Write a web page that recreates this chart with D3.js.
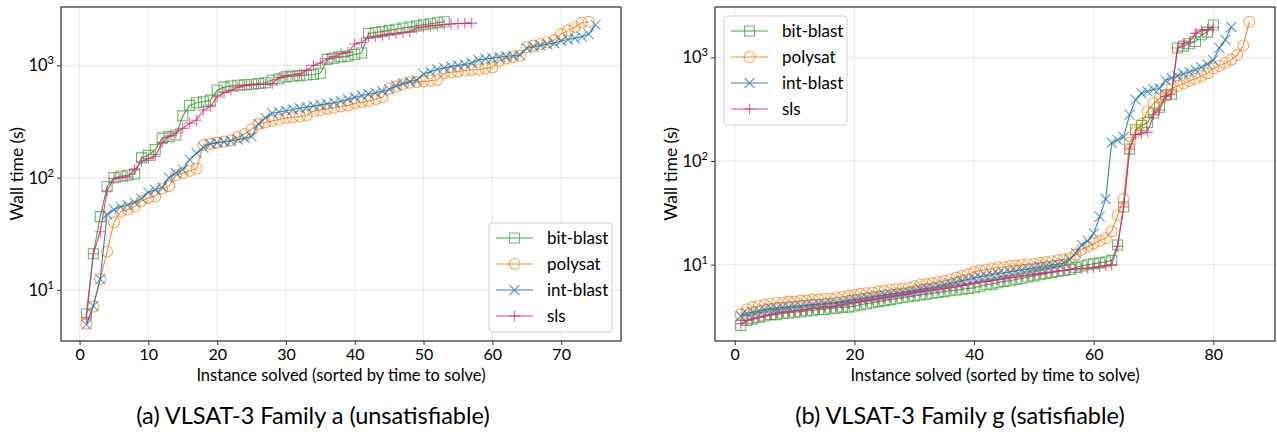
<!DOCTYPE html>
<html>
<head>
<meta charset="utf-8">
<script src="https://cdn.jsdelivr.net/npm/d3@7"></script>
<style>
  html, body { margin: 0; padding: 0; background: #fff; }
  svg { display: block; font-family: Lato, "Open Sans", sans-serif; }
</style>
</head>
<body>
<svg id="chart" width="1277" height="437"></svg>
<script>
// ---------- DATA ----------
const seriesNames = ["bit-blast", "polysat", "int-blast", "sls"];
const seriesColors = ["#2ca02c", "#ff7f0e", "#1f77b4", "#d9287c"];
const seriesMarkers = ["square", "circle", "x", "plus"];

// Panel (a): VLSAT-3 Family a (unsatisfiable)
const aBitBlast = [6.1, 21, 45, 83, 100, 103, 105, 108, 150, 158, 178, 225, 232, 240, 355, 440, 465, 475, 490, 600,
  640, 655, 665, 672, 680, 690, 700, 740, 760, 790, 800, 810, 820, 830, 850, 1130, 1160, 1190, 1210, 1250,
  1290, 1920, 1960, 2000, 2050, 2100, 2150, 2200, 2250, 2300, 2350, 2400, 2450];
const aPolysat = [5.0, 7.1, 12.5, 22, 40, 50, 52, 55, 62, 66, 68, 80, 84, 105, 110, 115, 120, 195, 200, 205,
  210, 215, 230, 245, 270, 300, 310, 320, 330, 340, 345, 350, 360, 390, 400, 410, 420, 430, 440, 460,
  470, 480, 500, 520, 620, 650, 680, 700, 710, 720, 730, 740, 850, 870, 880, 900, 910, 920, 940, 960,
  1100, 1150, 1180, 1220, 1450, 1500, 1550, 1600, 1680, 1900, 2050, 2200, 2400, 2450];
const aIntBlast = [4.9, 7.2, 12.5, 47, 52, 55, 57, 60, 65, 74, 78, 82, 100, 110, 118, 145, 165, 185, 200, 205,
  208, 212, 218, 225, 232, 300, 340, 375, 385, 395, 405, 415, 425, 435, 445, 455, 465, 480, 500, 520,
  540, 555, 570, 590, 610, 660, 690, 720, 740, 840, 880, 920, 950, 980, 1000, 1020, 1050, 1120, 1140, 1160,
  1180, 1200, 1220, 1240, 1420, 1460, 1500, 1540, 1580, 1650, 1700, 1750, 1800, 1900, 2300];
const aSls = [5.7, 21, 33, 76, 98, 100, 102, 118, 140, 148, 155, 205, 235, 250, 275, 305, 325, 400, 430, 525,
  570, 600, 640, 660, 670, 675, 680, 690, 780, 810, 820, 840, 900, 1000, 1050, 1150, 1200, 1270, 1300, 1550,
  1600, 1780, 1820, 1860, 1900, 1930, 1960, 1990, 2150, 2200, 2250, 2280, 2310, 2340, 2360, 2370, 2380];

// Panel (b): VLSAT-3 Family g (satisfiable)
const bBitBlast = [2.6, 2.9, 3.0, 3.1, 3.2, 3.3, 3.3, 3.4, 3.4, 3.5, 3.5, 3.6, 3.6, 3.7, 3.7, 3.8, 3.8, 3.9, 3.9, 4.0,
  4.1, 4.2, 4.3, 4.4, 4.5, 4.6, 4.7, 4.8, 4.9, 5.0, 5.1, 5.2, 5.3, 5.4, 5.5, 5.6, 5.7, 5.8, 5.9, 6.0,
  6.2, 6.4, 6.5, 6.7, 6.9, 7.0, 7.2, 7.4, 7.6, 7.8, 8.0, 8.2, 8.4, 8.6, 8.8, 9.0, 9.4, 9.7, 10.0, 10.2,
  10.4, 10.6, 11.0, 15.5, 36, 130, 200, 220, 235, 290, 330, 430, 440, 1230, 1280, 1350, 1420, 1650, 1750, 2050];
const bPolysat = [3.3, 3.7, 3.9, 4.0, 4.1, 4.2, 4.3, 4.3, 4.4, 4.4, 4.5, 4.5, 4.6, 4.6, 4.7, 4.7, 4.8, 4.9, 5.0, 5.1,
  5.2, 5.3, 5.4, 5.5, 5.6, 5.7, 5.8, 5.9, 6.0, 6.2, 6.4, 6.5, 6.6, 6.8, 7.0, 7.2, 7.5, 7.8, 8.1, 8.5,
  8.8, 9.0, 9.2, 9.4, 9.5, 9.7, 9.8, 10.0, 10.1, 10.2, 10.4, 10.6, 10.8, 11.0, 11.2, 11.5, 12.5, 14, 15, 16,
  17, 18, 21, 30, 43, 150, 190, 230, 300, 360, 400, 430, 500, 530, 560, 590, 620, 660, 700, 780,
  830, 880, 950, 1050, 1300, 2200];
const bIntBlast = [3.2, 3.4, 3.5, 3.6, 3.7, 3.8, 3.8, 3.9, 3.9, 4.0, 4.0, 4.1, 4.1, 4.2, 4.2, 4.3, 4.3, 4.4, 4.5, 4.6,
  4.7, 4.8, 4.9, 5.0, 5.1, 5.2, 5.3, 5.4, 5.5, 5.6, 5.8, 5.9, 6.0, 6.2, 6.4, 6.6, 6.8, 7.0, 7.2, 7.4,
  7.6, 7.8, 8.0, 8.2, 8.3, 8.5, 8.7, 8.9, 9.1, 9.3, 9.5, 9.7, 9.9, 10.1, 10.4, 11.2, 13, 15.5, 17, 20,
  29, 43, 150, 160, 170, 280, 390, 450, 470, 490, 500, 600, 630, 660, 690, 720, 760, 800, 860, 940,
  1230, 1470, 1960];
const bSls = [2.7, 2.9, 3.0, 3.1, 3.2, 3.3, 3.4, 3.5, 3.5, 3.6, 3.6, 3.7, 3.8, 3.8, 3.9, 3.9, 4.0, 4.1, 4.2, 4.3,
  4.4, 4.5, 4.6, 4.7, 4.8, 4.9, 5.0, 5.1, 5.2, 5.4, 5.5, 5.6, 5.7, 5.8, 5.9, 6.0, 6.1, 6.3, 6.4, 6.6,
  6.8, 6.9, 7.0, 7.2, 7.3, 7.5, 7.6, 7.8, 7.9, 8.1, 8.2, 8.4, 8.5, 8.7, 8.8, 9.0, 9.1, 9.2, 9.3, 9.4,
  9.6, 9.8, 10.0, 15, 36, 130, 180, 185, 190, 280, 310, 420, 440, 1230, 1350, 1400, 1700, 1800, 1850, 1950];

const aXTicks = [0, 10, 20, 30, 40, 50, 60, 70];
const bXTicks = [0, 20, 40, 60, 80];
const yTickExps = [1, 2, 3];

const xLabel = "Instance solved (sorted by time to solve)";
const yLabel = "Wall time (s)";
const aCaption = "(a) VLSAT-3 Family a (unsatisfiable)";
const bCaption = "(b) VLSAT-3 Family g (satisfiable)";

// ---------- DRAW ----------
const svg = d3.select("#chart");

function markerPath(type) {
  const s = 5, c = 5.5, x = 5, p = 5.5;
  if (type === "square") return `M${-s},${-s}H${s}V${s}H${-s}Z`;
  if (type === "circle") return d3.arc()({innerRadius: 0, outerRadius: c, startAngle: 0, endAngle: 2 * Math.PI});
  if (type === "x") return `M${-x},${-x}L${x},${x}M${-x},${x}L${x},${-x}`;
  return `M${-p},0H${p}M0,${-p}V${p}`;
}

function panel(opts) {
  const {left, right, top, bottom, xDomain, yDomain, xTicks, series, legend, caption, captionX} = opts;
  const g = svg.append("g");
  const x = d3.scaleLinear().domain(xDomain).range([left, right]);
  const y = d3.scaleLog().domain(yDomain).range([bottom, top]);

  // grid
  g.append("g").selectAll("line").data(xTicks).join("line")
    .attr("x1", d => x(d)).attr("x2", d => x(d)).attr("y1", top).attr("y2", bottom)
    .attr("stroke", "#e6e6e6").attr("stroke-width", 1);
  g.append("g").selectAll("line").data(yTickExps).join("line")
    .attr("x1", left).attr("x2", right).attr("y1", d => y(Math.pow(10, d))).attr("y2", d => y(Math.pow(10, d)))
    .attr("stroke", "#e6e6e6").attr("stroke-width", 1);

  // series
  const clipId = "clip" + Math.round(left);
  svg.append("clipPath").attr("id", clipId).append("rect")
    .attr("x", left).attr("y", top).attr("width", right - left).attr("height", bottom - top);
  const plot = g.append("g").attr("clip-path", `url(#${clipId})`);
  series.forEach((vals, si) => {
    const col = seriesColors[si];
    const pts = vals.map((v, i) => [i + 1, v]);
    plot.append("path").datum(pts)
      .attr("d", d3.line().x(d => x(d[0])).y(d => y(d[1])))
      .attr("fill", "none").attr("stroke", col).attr("stroke-width", 1.1).attr("stroke-opacity", 0.9);
    plot.append("g").selectAll("path").data(pts).join("path")
      .attr("transform", d => `translate(${x(d[0])},${y(d[1])})`)
      .attr("d", markerPath(seriesMarkers[si]))
      .attr("fill", "none").attr("stroke", col).attr("stroke-width", 1.1).attr("stroke-opacity", 0.7);
  });

  // axes frame
  g.append("rect").attr("x", left).attr("y", top).attr("width", right - left).attr("height", bottom - top)
    .attr("fill", "none").attr("stroke", "#333").attr("stroke-width", 1.25);

  // x axis
  const xa = g.append("g").attr("transform", `translate(0,${bottom})`)
    .call(d3.axisBottom(x).tickValues(xTicks).tickSize(4).tickPadding(4).tickFormat(d3.format("d")));
  xa.select(".domain").remove();
  xa.selectAll("line").attr("stroke", "#333");
  xa.selectAll("text").attr("font-size", 16).attr("fill", "#000").attr("font-family", "Lato, sans-serif");

  // y axis
  const ya = g.append("g").attr("transform", `translate(${left},0)`)
    .call(d3.axisLeft(y).tickValues(yTickExps.map(e => Math.pow(10, e))).tickSize(4).tickFormat(""));
  ya.select(".domain").remove();
  ya.selectAll("line").attr("stroke", "#333");
  yTickExps.forEach(e => {
    const t = g.append("text").attr("x", left - 7).attr("y", y(Math.pow(10, e)) + 6)
      .attr("text-anchor", "end").attr("font-size", 16.5).attr("fill", "#000");
    t.append("tspan").text("10");
    t.append("tspan").attr("font-size", 11).attr("dy", -7).text(String(e));
  });

  // axis labels
  g.append("text").attr("x", (left + right) / 2).attr("y", 381).attr("text-anchor", "middle")
    .attr("font-size", 16.5).attr("fill", "#000").text(xLabel);
  g.append("text").attr("transform", `translate(${left - 38},${(top + bottom) / 2}) rotate(-90)`)
    .attr("text-anchor", "middle").attr("font-size", 17.5).attr("fill", "#000").text(yLabel);

  // caption
  g.append("text").attr("x", captionX).attr("y", 424).attr("text-anchor", "middle")
    .attr("font-size", 23.5).attr("fill", "#000").text(caption);

  // legend
  const lg = g.append("g").attr("transform", `translate(${legend.x},${legend.y})`);
  lg.append("rect").attr("x", 0).attr("y", 0).attr("width", 123).attr("height", 109).attr("rx", 3)
    .attr("fill", "#fff").attr("fill-opacity", 0.8).attr("stroke", "#d0d0d0");
  seriesNames.forEach((name, i) => {
    const cy = 15 + i * 26;
    lg.append("line").attr("x1", 7).attr("x2", 44).attr("y1", cy).attr("y2", cy)
      .attr("stroke", seriesColors[i]).attr("stroke-width", 1.1).attr("stroke-opacity", 0.9);
    lg.append("path").attr("transform", `translate(25.5,${cy})`).attr("d", markerPath(seriesMarkers[i]))
      .attr("fill", "none").attr("stroke", seriesColors[i]).attr("stroke-width", 1.1).attr("stroke-opacity", 0.7);
    lg.append("text").attr("x", 58).attr("y", cy + 6).attr("font-size", 17).attr("fill", "#000").text(name);
  });
}

panel({
  left: 61, right: 621, top: 7, bottom: 341,
  xDomain: [-2.7, 78.7], yDomain: [Math.pow(10, 0.545), Math.pow(10, 3.52)],
  xTicks: aXTicks, series: [aBitBlast, aPolysat, aIntBlast, aSls],
  legend: {x: 489, y: 223}, caption: aCaption, captionX: 313
});
panel({
  left: 715, right: 1275, top: 7, bottom: 341,
  xDomain: [-3.3, 90.3], yDomain: [Math.pow(10, 0.264), Math.pow(10, 3.485)],
  xTicks: bXTicks, series: [bBitBlast, bPolysat, bIntBlast, bSls],
  legend: {x: 724, y: 16}, caption: bCaption, captionX: 960
});
</script>
</body>
</html>
